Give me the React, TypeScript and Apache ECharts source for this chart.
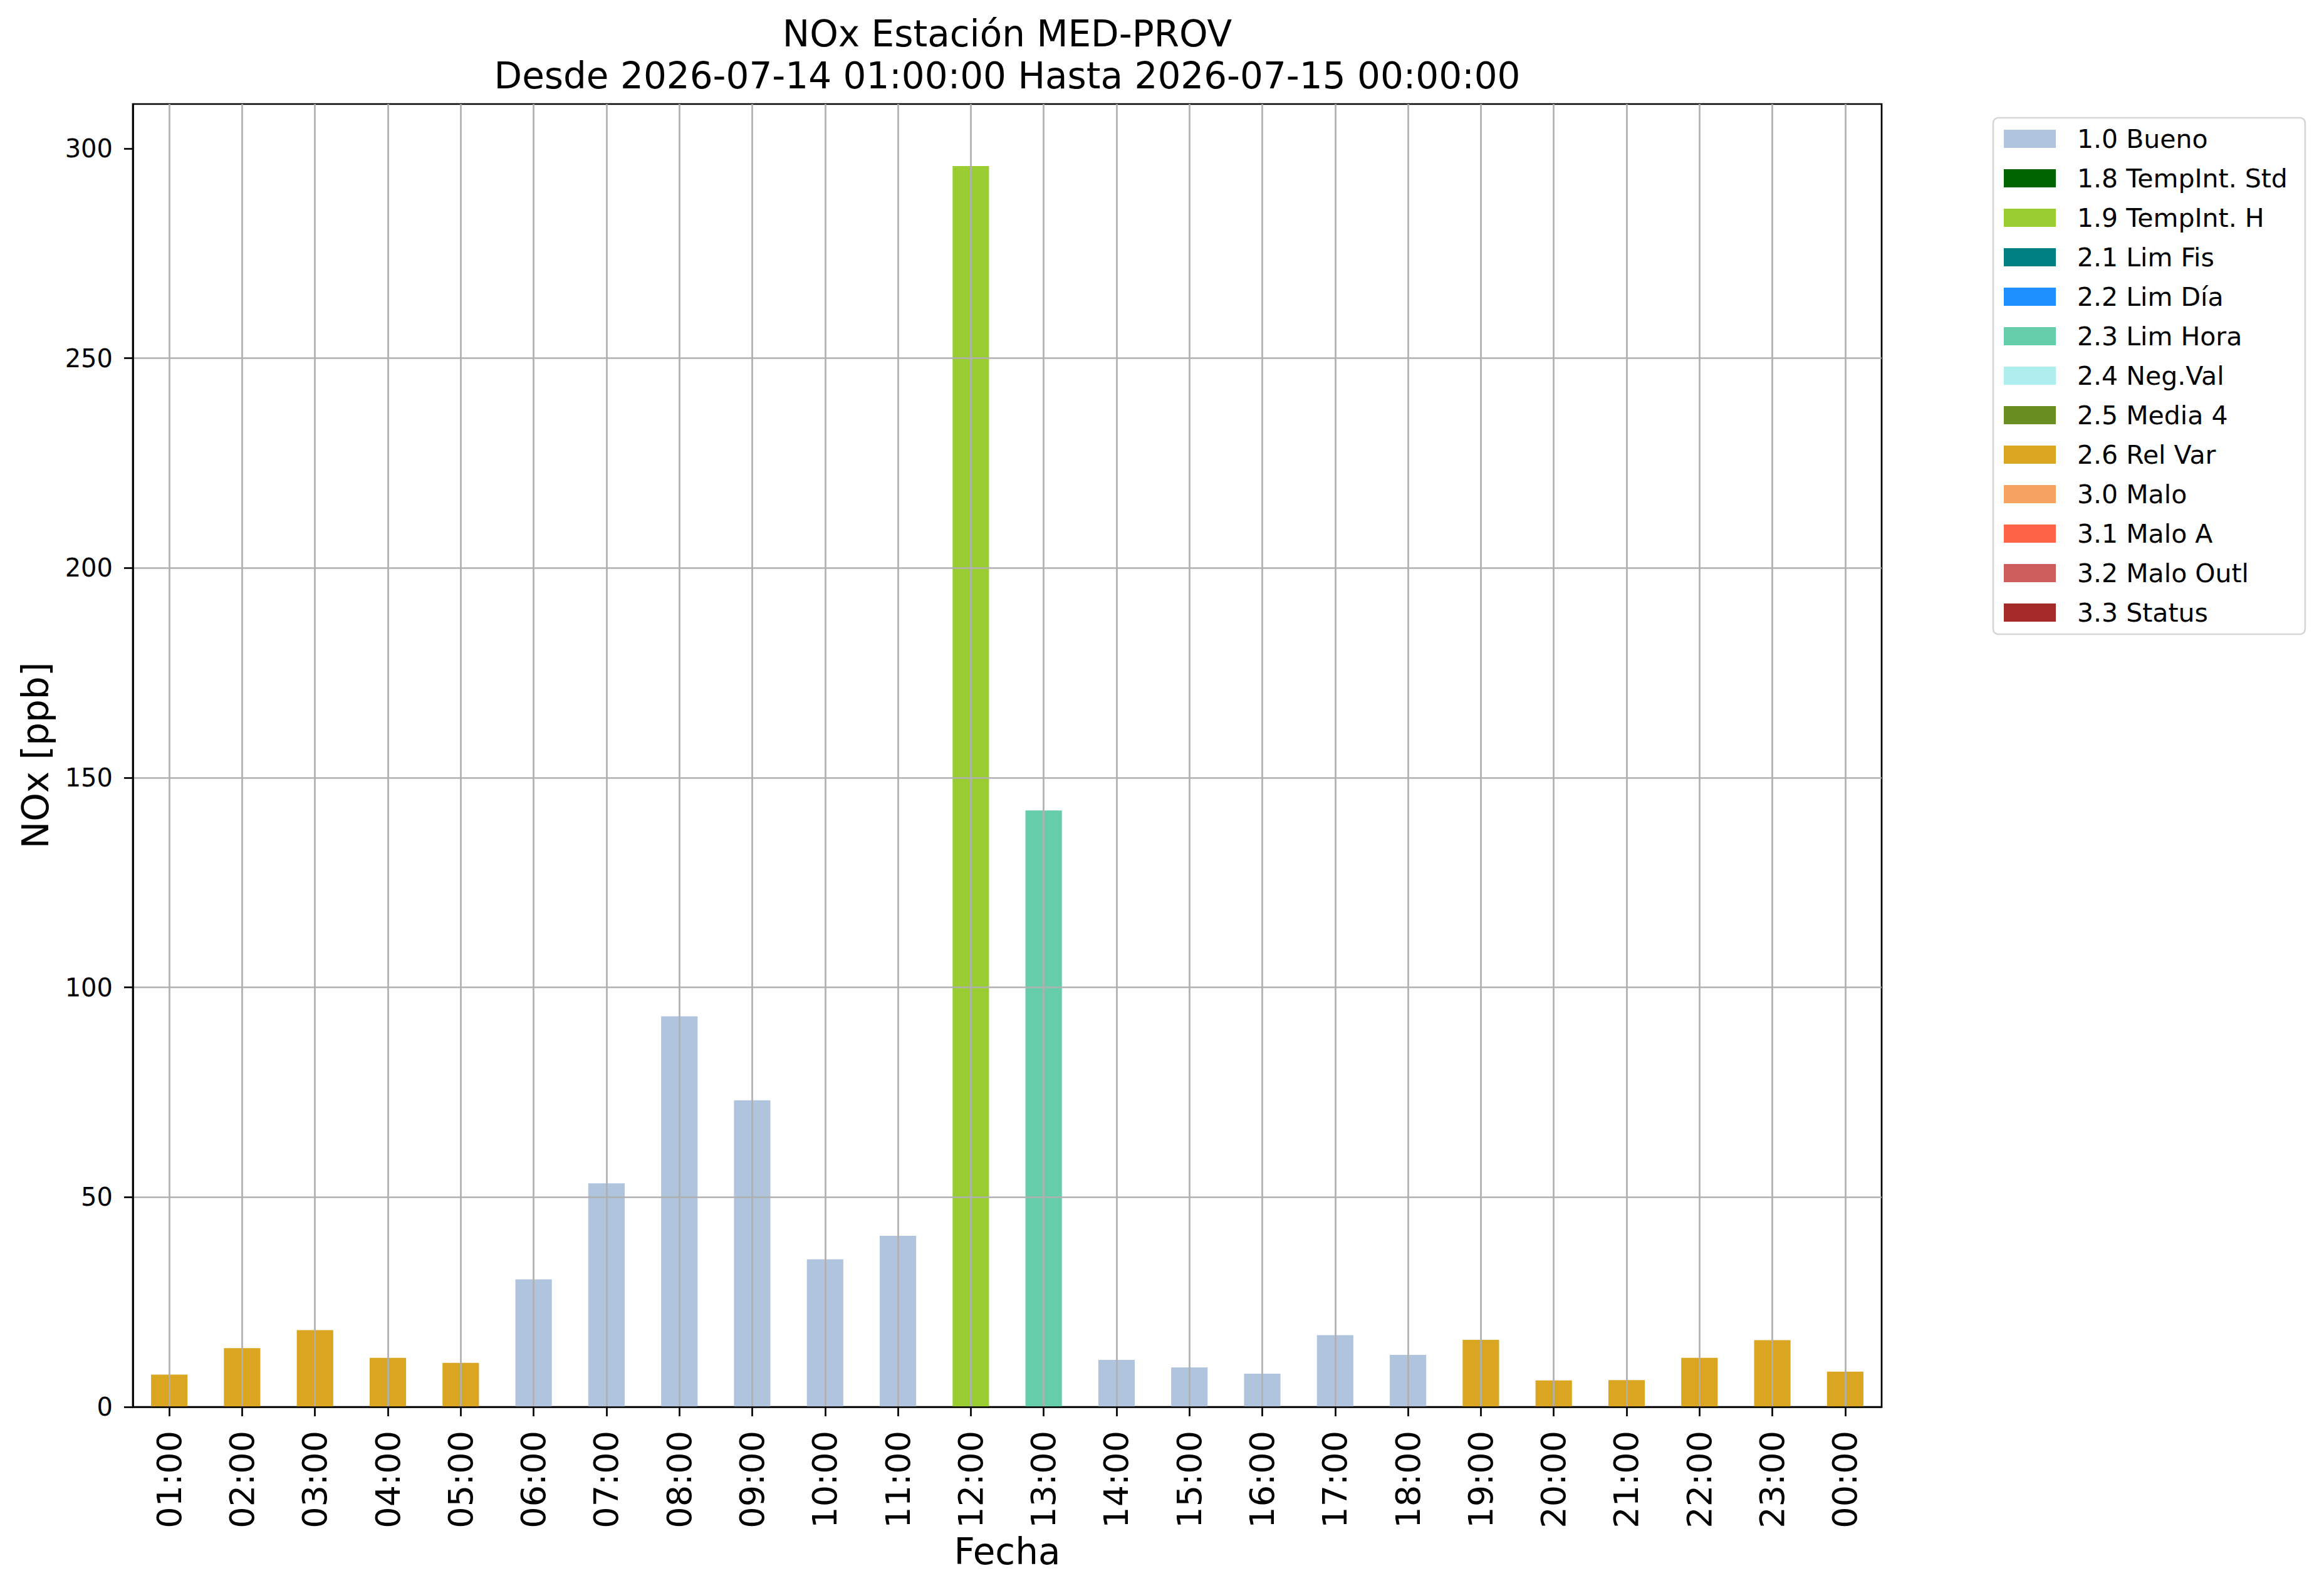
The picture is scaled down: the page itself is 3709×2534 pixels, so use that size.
import React, { useEffect, useRef } from "react";
import * as echarts from "echarts";

// ---- data ----
const hours: string[] = [
  "01:00", "02:00", "03:00", "04:00", "05:00", "06:00", "07:00", "08:00",
  "09:00", "10:00", "11:00", "12:00", "13:00", "14:00", "15:00", "16:00",
  "17:00", "18:00", "19:00", "20:00", "21:00", "22:00", "23:00", "00:00",
];

const noxValues: number[] = [
  7.7, 14.0, 18.3, 11.7, 10.5, 30.4, 53.3, 93.1, 73.1, 35.2, 40.8, 295.8,
  142.2, 11.2, 9.4, 7.9, 17.1, 12.4, 16.0, 6.3, 6.4, 11.7, 15.9, 8.4,
];

const hourFlags: string[] = [
  "2.6 Rel Var", "2.6 Rel Var", "2.6 Rel Var", "2.6 Rel Var", "2.6 Rel Var",
  "1.0 Bueno", "1.0 Bueno", "1.0 Bueno", "1.0 Bueno", "1.0 Bueno", "1.0 Bueno",
  "1.9 TempInt. H", "2.3 Lim Hora",
  "1.0 Bueno", "1.0 Bueno", "1.0 Bueno", "1.0 Bueno", "1.0 Bueno",
  "2.6 Rel Var", "2.6 Rel Var", "2.6 Rel Var", "2.6 Rel Var", "2.6 Rel Var", "2.6 Rel Var",
];

const flagNames: string[] = [
  "1.0 Bueno", "1.8 TempInt. Std", "1.9 TempInt. H", "2.1 Lim Fis", "2.2 Lim Día",
  "2.3 Lim Hora", "2.4 Neg.Val", "2.5 Media 4", "2.6 Rel Var", "3.0 Malo",
  "3.1 Malo A", "3.2 Malo Outl", "3.3 Status",
];

const flagColors: string[] = [
  "#B0C4DE", "#006400", "#9ACD32", "#008080", "#1E90FF",
  "#66CDAA", "#AFEEEE", "#6B8E23", "#DAA520", "#F4A460",
  "#FF6347", "#CD5C5C", "#A52A2A",
];

const yTicks: number[] = [0, 50, 100, 150, 200, 250, 300];

const titleText = "NOx Estación MED-PROV\nDesde 2026-07-14 01:00:00 Hasta 2026-07-15 00:00:00";

// ---- layout / style ----
const FONT = "DejaVu Sans";
const W = 3709;
const H = 2534;
const GRID_LEFT = 212;
const GRID_TOP = 166;
const GRID_RIGHT = 706;
const GRID_BOTTOM = 289;
const LINE_W = 2.7;
const GRID_COLOR = "#b0b0b0";

export default function App() {
  const ref = useRef<HTMLDivElement>(null);

  useEffect(() => {
    if (!ref.current) return;
    const chart = echarts.init(ref.current, null, { renderer: "svg" });

    const yMax = Math.max(...noxValues) * 1.05;
    const axesCenterX = GRID_LEFT + (W - GRID_LEFT - GRID_RIGHT) / 2;

    const series = flagNames.map((name, k) => ({
      name,
      type: "bar",
      stack: "all",
      barWidth: "50%",
      z: 2,
      itemStyle: { color: flagColors[k] },
      emphasis: { disabled: true },
      data: noxValues.map((v, i) => (hourFlags[i] === name ? v : null)),
    }));

    const option: any = {
      animation: false,
      backgroundColor: "#ffffff",
      textStyle: { fontFamily: FONT, color: "#000" },
      title: {
        text: titleText,
        left: axesCenterX,
        top: 20,
        textAlign: "center",
        padding: 0,
        textStyle: {
          fontFamily: FONT,
          fontSize: 58,
          fontWeight: "normal",
          lineHeight: 67,
          color: "#000",
        },
      },
      grid: {
        left: GRID_LEFT,
        top: GRID_TOP,
        right: GRID_RIGHT,
        bottom: GRID_BOTTOM,
        show: true,
        borderColor: "#000",
        borderWidth: LINE_W,
        backgroundColor: "transparent",
        containLabel: false,
        outerBoundsMode: "none",
      },
      legend: {
        orient: "vertical",
        left: 3181,
        top: 188,
        padding: [13, 28, 14, 17],
        itemWidth: 83,
        itemHeight: 29,
        itemGap: 22,
        icon: "rect",
        selectedMode: false,
        backgroundColor: "#ffffff",
        borderColor: "#d6d6d6",
        borderWidth: LINE_W,
        borderRadius: 8,
        textStyle: {
          fontFamily: FONT,
          fontSize: 41,
          color: "#000",
          lineHeight: 29,
          padding: [0, 0, 0, 29],
        },
        data: flagNames,
      },
      xAxis: {
        type: "category",
        data: hours,
        z: 6,
        axisLine: { show: true, lineStyle: { color: "#000", width: LINE_W } },
        axisTick: {
          show: true,
          alignWithLabel: true,
          interval: 0,
          length: 15,
          lineStyle: { color: "#000", width: LINE_W },
        },
        axisLabel: {
          interval: 0,
          rotate: 90,
          margin: 38,
          fontSize: 54,
          color: "#000",
          fontFamily: FONT,
        },
        splitLine: {
          show: true,
          alignWithLabel: true,
          interval: 0,
          lineStyle: { color: GRID_COLOR, width: LINE_W },
        },
        name: "Fecha",
        nameLocation: "middle",
        nameGap: 197,
        nameTextStyle: { fontSize: 58, color: "#000", fontFamily: FONT },
      },
      yAxis: {
        type: "value",
        min: 0,
        max: yMax,
        interval: 50,
        z: 5,
        axisLine: { show: true, lineStyle: { color: "#000", width: LINE_W } },
        axisTick: {
          show: true,
          length: 14,
          customValues: yTicks,
          lineStyle: { color: "#000", width: LINE_W },
        },
        axisLabel: {
          margin: 32,
          fontSize: 40,
          color: "#000",
          fontFamily: FONT,
          customValues: yTicks,
        },
        splitLine: {
          show: true,
          showMinLine: false,
          showMaxLine: false,
          lineStyle: { color: GRID_COLOR, width: LINE_W },
        },
        name: "NOx [ppb]",
        nameLocation: "middle",
        nameGap: 126,
        nameTextStyle: { fontSize: 58, color: "#000", fontFamily: FONT },
      },
      series,
    };

    chart.setOption(option);
    return () => chart.dispose();
  }, []);

  return (
    <div
      ref={ref}
      style={{ position: "fixed", left: 0, top: 0, width: W, height: H, background: "#fff" }}
    />
  );
}
